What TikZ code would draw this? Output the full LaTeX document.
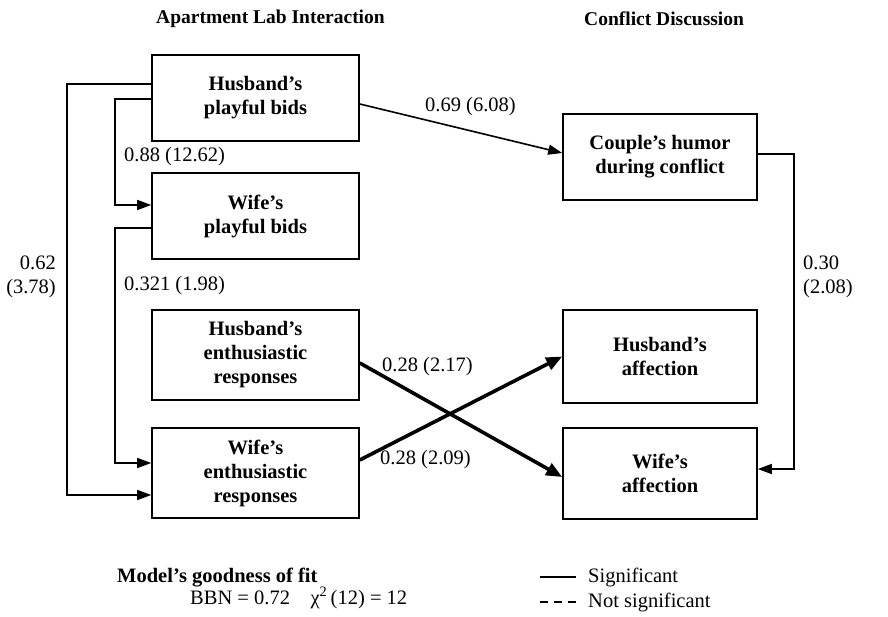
\documentclass[tikz,border=0pt]{standalone}
\usepackage{fontspec}
\setmainfont{Liberation Serif}
\usetikzlibrary{arrows.meta}
\newcommand\myfs{\fontsize{20.5}{24}\selectfont}
\newcommand\myhfs{\fontsize{19.5}{23}\selectfont}
\begin{document}
\begin{tikzpicture}[x=1pt,y=-1pt,
  box/.style={draw, line width=1.6pt, inner sep=0pt, font=\myfs\bfseries, align=center},
  lbl/.style={inner sep=0pt, anchor=west, font=\myfs},
  bold/.style={font=\myfs\bfseries},
  heading/.style={inner sep=0pt, anchor=west, font=\myhfs\bfseries},
  arr/.style={line width=1.6pt, -{Triangle[length=14pt,width=10pt]}},
  bigarr/.style={line width=3.6pt, -{Triangle[length=16pt,width=13pt]}},
  legline/.style={line width=1.6pt}]
\useasboundingbox (0,0) rectangle (888,616);
% boxes
\node[box, minimum width=207pt, minimum height=86pt] (hpb) at (255.5,98) {Husband’s\\playful bids};
\node[box, minimum width=207pt, minimum height=86pt] (wpb) at (255.5,216) {Wife’s\\playful bids};
\node[box, minimum width=207pt, minimum height=90pt] (her) at (255.5,355) {Husband’s\\enthusiastic\\responses};
\node[box, minimum width=207pt, minimum height=90pt] (wer) at (255.5,473) {Wife’s\\enthusiastic\\responses};
\node[box, minimum width=194pt, minimum height=86pt] (chc) at (660,157) {Couple’s humor\\during conflict};
\node[box, minimum width=194pt, minimum height=93pt] (ha) at (660,356.5) {Husband’s\\affection};
\node[box, minimum width=194pt, minimum height=91pt] (wa) at (660,473.5) {Wife’s\\affection};
% headings
\node[heading] (h1) at (156,19) {Apartment Lab Interaction};
\node[heading] (h2) at (584,19) {Conflict Discussion};
% connectors
\draw[arr] ([yshift=14pt]hpb.west) -- ++(-84,0) |- ([yshift=-22pt]wer.west);
\draw[arr] ([yshift=-1pt]hpb.west) -- ++(-36,0) |- ([yshift=11pt]wpb.west);
\draw[arr] ([yshift=-12pt]wpb.west) -- ++(-36,0) |- ([yshift=10pt]wer.west);
\draw[arr] ([yshift=-6pt]hpb.east) -- ([yshift=4pt]chc.west);
\draw[arr] ([yshift=3pt]chc.east) -- ++(36,0) |- ([yshift=4.5pt]wa.east);
\draw[bigarr] ([yshift=-8pt]her.east) -- ([yshift=-3.5pt]wa.west);
\draw[bigarr] ([yshift=13pt]wer.east) -- (ha.west);
% labels
\node[lbl] (l1) at (425,107) {0.69 (6.08)};
\node[lbl] (l2) at (124,157) {0.88 (12.62)};
\node[lbl] (l3) at (124,286) {0.321 (1.98)};
\node[inner sep=0pt, anchor=east, align=right, font=\myfs] (l4) at (56,277) {0.62\\(3.78)};
\node[lbl, align=left] (l5) at (803,277) {0.30\\(2.08)};
\node[lbl] (l6) at (382,367) {0.28 (2.17)};
\node[lbl] (l7) at (380,460) {0.28 (2.09)};
% legend
\node[lbl, bold] (m1) at (117,578) {Model’s goodness of fit};
\node[lbl] (m2) at (190,598) {BBN = 0.72\quad χ\textsuperscript{2}\,(12) = 12};
\coordinate (s1) at (540,577);
\coordinate (s2) at (576,577);
\draw[legline] (s1) -- (s2);
\node[lbl] (sig) at (588,577) {Significant};
\coordinate (n1) at (540,602);
\coordinate (n2) at (576,602);
\draw[legline, dash pattern=on 8pt off 6pt] (n1) -- (n2);
\node[lbl] (nsig) at (588,602) {Not significant};
\end{tikzpicture}
\end{document}
